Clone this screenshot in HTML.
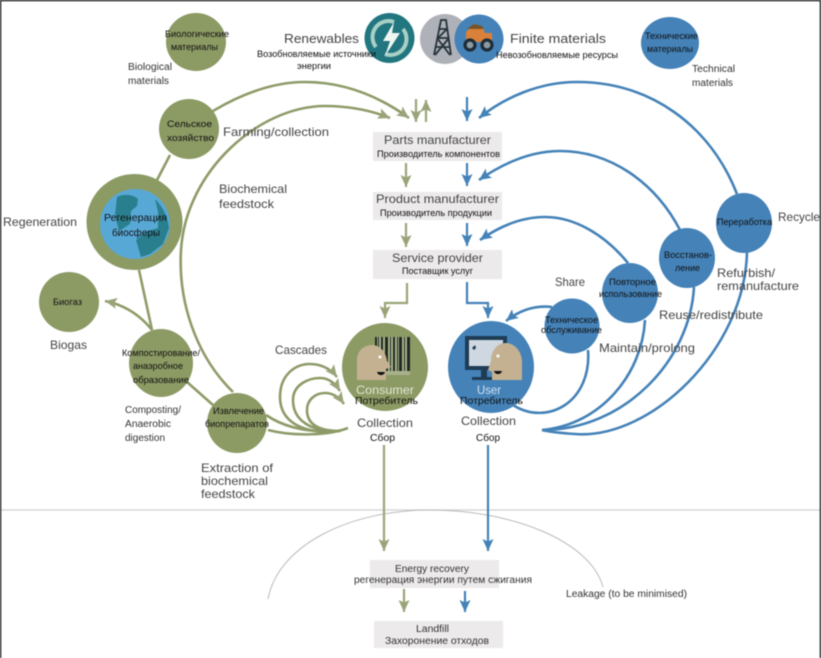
<!DOCTYPE html>
<html><head><meta charset="utf-8"><style>
html,body{margin:0;padding:0;background:#fff;width:821px;height:658px;overflow:hidden}
svg{display:block;filter:blur(.4px)}
text{font-family:"Liberation Sans",sans-serif;fill:#333;text-anchor:start}
.r{font-size:9px;fill:#111}
.l{font-size:12px;fill:#444}
.s{font-size:10px;fill:#333}
.g{fill:none;stroke:#8e9b68;stroke-width:2.6}
.b{fill:none;stroke:#4482b8;stroke-width:2.6}
.ga{fill:none;stroke:#9aa479;stroke-width:2.2}
.ba{fill:none;stroke:#4482b8;stroke-width:2.2}
</style></head><body>
<svg width="821" height="658" viewBox="0 0 821 658" xmlns="http://www.w3.org/2000/svg">
<defs>
<marker id="mg" markerUnits="userSpaceOnUse" markerWidth="14" markerHeight="13" refX="12" refY="6" orient="auto"><path d="M0 0.500L12 6L0 11.500L2.500 6Z" fill="#9aa479"/></marker>
<marker id="mb" markerUnits="userSpaceOnUse" markerWidth="14" markerHeight="13" refX="12" refY="6" orient="auto"><path d="M0 0.500L12 6L0 11.500L2.500 6Z" fill="#4482b8"/></marker>
</defs>
<rect width="821" height="658" fill="#fff"/>
<!-- divider & leakage arc -->
<line x1="0" y1="510" x2="820" y2="510" stroke="#d2d2cd" stroke-width="1.200"/>
<path d="M268 599C278 545 350 510 430 510C510 510 590 540 603 587" fill="none" stroke="#bbb" stroke-width="1"/>
<!-- boxes -->
<g fill="#eceaea">
<rect x="373" y="132" width="129" height="29"/>
<rect x="373" y="192" width="129" height="28"/>
<rect x="373" y="250" width="129" height="29"/>
<rect x="370" y="560" width="129" height="28"/>
<rect x="374" y="621" width="129" height="27"/>
</g>
<!-- green connectors -->
<path class="g" d="M213 111C245 92 275 82 305 82C345 82 380 97 409 118" marker-end="url(#mg)"/>
<path class="g" d="M233 392C195 355 178 300 181 250C186 170 260 106 325 106C350 106 370 110 390 118" marker-end="url(#mg)"/>
<path class="g" d="M170 155L157 180"/>
<path class="g" d="M139 270L152 330"/>
<path class="g" d="M152 330C140 315 125 305 105 301" marker-end="url(#mg)"/>
<path class="g" d="M187 382L213 405"/>
<path class="g" d="M268 430C295 437 330 435 348 428"/>
<path class="g" d="M266 415C285 428 310 433 340 431"/>
<path class="g" d="M340 431C300 435 280 420 280 397C280 375 295 364 310 364C320 364 330 368 337 377" marker-end="url(#mg)"/>
<path class="g" d="M340 431C310 432 293 420 293 400C293 385 308 378 320 378C328 378 335 383 340 391" marker-end="url(#mg)"/>
<path class="g" d="M340 431C320 431 307 425 307 410C307 400 315 393 325 393C333 393 339 397 344 404" marker-end="url(#mg)"/>
<path class="ga" d="M416 99V122" marker-end="url(#mg)"/>
<path class="ga" d="M426 122V100" marker-end="url(#mg)"/>
<path class="ga" d="M406 163V187" marker-end="url(#mg)"/>
<path class="ga" d="M406 223V247" marker-end="url(#mg)"/>
<path class="ga" d="M407 283V303H385V318" marker-end="url(#mg)"/>
<path class="ga" d="M384 445V551" marker-end="url(#mg)"/>
<path class="ga" d="M404 589V612" marker-end="url(#mg)"/>
<!-- blue connectors -->
<path class="b" d="M737 194C710 125 650 82 577 82C540 82 505 97 479 118" marker-end="url(#mb)"/>
<path class="b" d="M680 230C655 182 610 151 560 151C532 151 505 162 479 180" marker-end="url(#mb)"/>
<path class="b" d="M628 263C605 235 575 217 545 217C522 217 500 226 480 240" marker-end="url(#mb)"/>
<path class="b" d="M552 307C535 305 520 310 506 321" marker-end="url(#mb)"/>
<path class="b" d="M513 405C530 416 550 415 565 405C580 395 590 375 588 350"/>
<path class="b" d="M645 320C642 375 600 425 542 430"/>
<path class="b" d="M694 287C690 360 625 430 542 430"/>
<path class="b" d="M747 252C745 350 650 440 575 434C560 433 550 432 542 430"/>
<path class="ba" d="M467 97V121" marker-end="url(#mb)"/>
<path class="ba" d="M467 163V186" marker-end="url(#mb)"/>
<path class="ba" d="M467 223V246" marker-end="url(#mb)"/>
<path class="ba" d="M467 282V303H488V318" marker-end="url(#mb)"/>
<path class="ba" d="M488 445V551" marker-end="url(#mb)"/>
<path class="ba" d="M465 591V612" marker-end="url(#mb)"/>
<!-- green circles -->
<g fill="#8c9a64">
<ellipse cx="196" cy="42" rx="30" ry="29"/>
<circle cx="189" cy="129" r="30"/>
<circle cx="134.500" cy="222" r="48"/>
<circle cx="69" cy="302" r="30"/>
<ellipse cx="161" cy="363" rx="32" ry="34"/>
<circle cx="237" cy="423" r="30"/>
<ellipse cx="385" cy="367" rx="43" ry="44"/>
</g>
<!-- earth -->
<circle cx="135" cy="224" r="35" fill="#58a8d6"/>
<path d="M117 197C124 193 134 195 138 199L137 206L131 211L130 224L119 231L115 215Z" fill="#2a7f8f"/>
<path d="M155 199C163 207 168 217 169 228L163 244L150 254L141 257L136 240L146 232L158 228L158 212Z" fill="#2a7f8f"/>
<!-- blue circles -->
<g fill="#4482b8">
<ellipse cx="670" cy="43" rx="29" ry="26"/>
<ellipse cx="491" cy="367" rx="43" ry="46"/>
<circle cx="572" cy="326" r="27.500"/>
<ellipse cx="630" cy="293" rx="28" ry="30"/>
<ellipse cx="687" cy="258" rx="28" ry="30"/>
<ellipse cx="744" cy="223" rx="28" ry="30"/>
</g>
<!-- top icons -->
<circle cx="389.500" cy="38" r="25" fill="#227680"/>
<path d="M376 47A16 16 0 0 1 394 22" fill="none" stroke="#a8d0c6" stroke-width="4"/>
<path d="M403 29A16 16 0 0 1 385 54" fill="none" stroke="#a8d0c6" stroke-width="4"/>
<path d="M394 22L383 41H390L385 56L400 33H392Z" fill="#f0f6f2"/>
<circle cx="445" cy="39" r="25" fill="#aeb1b8"/>
<path d="M434 55L441 20H446L451 55M437 38H449M436 47H450M439 29H447M435 55L449 38M450 55L437 38M438 38L447 29" fill="none" stroke="#26323a" stroke-width="1.800"/>
<circle cx="479" cy="39" r="24.500" fill="#4482b8"/>
<path d="M466 32L470 28H483L485 33H492V42H466Z" fill="#d9813a"/>
<path d="M468 28L474 24L482 26L484 29H468Z" fill="#7a5428"/>
<circle cx="470" cy="45" r="5" fill="#8a9aa5" stroke="#1f2c36" stroke-width="3.200"/>
<circle cx="487" cy="45" r="5" fill="#8a9aa5" stroke="#1f2c36" stroke-width="3.200"/>
<!-- consumer icon -->
<rect x="375" y="337" width="35" height="38" fill="#a9b18c"/>
<g fill="#1f2a20">
<rect x="375" y="337" width="2" height="34"/><rect x="378" y="337" width="1" height="34"/><rect x="381" y="337" width="2" height="34"/><rect x="385" y="337" width="3" height="34"/><rect x="390" y="337" width="1" height="34"/><rect x="393" y="337" width="2" height="34"/><rect x="397" y="337" width="1" height="34"/><rect x="399" y="337" width="3" height="34"/><rect x="404" y="337" width="1" height="34"/><rect x="407" y="337" width="3" height="34"/>
</g>
<path d="M357 380V360C357 350 365 345 372 345C380 345 386 352 387 361L391 367L386 369V380Z" fill="#c4b192"/>
<circle cx="380" cy="357" r="1.500" fill="#fff"/>
<path d="M377 372H385C384 376 378 376 377 372Z" fill="#111"/>
<!-- user icon -->
<rect x="467" y="338" width="38" height="30" fill="#cfd8e0" stroke="#1f3c55" stroke-width="4"/>
<path d="M481 370H487V377H495V380H472V377H481Z" fill="#1f3c55"/>
<path d="M472 348L475 345L476 348L474 350Z" fill="#1f3c55"/>
<path d="M522 380V362C522 351 514 343 506 343C497 343 491 351 491 361L488 370L492 372V380Z" fill="#c4b192"/>
<circle cx="498" cy="356" r="1.500" fill="#fff"/>
<path d="M494 371H502C501 375 495 375 494 371Z" fill="#111"/>
<!-- texts -->
<text class="r" x="165" y="37" textLength="64" lengthAdjust="spacingAndGlyphs">Биологические</text>
<text class="r" x="171" y="50" textLength="47" lengthAdjust="spacingAndGlyphs">материалы</text>
<text class="s" x="128" y="70" textLength="44" lengthAdjust="spacingAndGlyphs">Biological</text>
<text class="s" x="128" y="84" textLength="41" lengthAdjust="spacingAndGlyphs">materials</text>
<text class="l" style="font-size:13px" x="284" y="43" textLength="75" lengthAdjust="spacingAndGlyphs">Renewables</text>
<text class="r" x="257" y="57" textLength="119" lengthAdjust="spacingAndGlyphs">Возобновляемые источники</text>
<text class="r" x="297" y="69" textLength="34" lengthAdjust="spacingAndGlyphs">энергии</text>
<text class="l" style="font-size:13px" x="510" y="43" textLength="96" lengthAdjust="spacingAndGlyphs">Finite materials</text>
<text class="r" x="496" y="58" textLength="122" lengthAdjust="spacingAndGlyphs">Невозобновляемые ресурсы</text>
<text class="r" x="645" y="39" textLength="53" lengthAdjust="spacingAndGlyphs">Технические</text>
<text class="r" x="647" y="52" textLength="46" lengthAdjust="spacingAndGlyphs">материалы</text>
<text class="s" x="692" y="72" textLength="43" lengthAdjust="spacingAndGlyphs">Technical</text>
<text class="s" x="692" y="86" textLength="41" lengthAdjust="spacingAndGlyphs">materials</text>
<text class="r" x="167" y="127" textLength="45" lengthAdjust="spacingAndGlyphs">Сельское</text>
<text class="r" x="167" y="141" textLength="47" lengthAdjust="spacingAndGlyphs">хозяйство</text>
<text class="l" x="223" y="136" textLength="106" lengthAdjust="spacingAndGlyphs">Farming/collection</text>
<text class="l" x="219" y="193" textLength="68" lengthAdjust="spacingAndGlyphs">Biochemical</text>
<text class="l" x="219" y="208" textLength="55" lengthAdjust="spacingAndGlyphs">feedstock</text>
<text class="l" x="3" y="226" textLength="74" lengthAdjust="spacingAndGlyphs">Regeneration</text>
<text class="r" style="font-size:10px" x="104" y="221" textLength="63" lengthAdjust="spacingAndGlyphs">Регенерация</text>
<text class="r" style="font-size:10px" x="112" y="236" textLength="48" lengthAdjust="spacingAndGlyphs">биосферы</text>
<text class="l" x="384" y="144" textLength="107" lengthAdjust="spacingAndGlyphs">Parts manufacturer</text>
<text class="r" x="377" y="157" textLength="123" lengthAdjust="spacingAndGlyphs">Производитель компонентов</text>
<text class="l" x="376" y="203" textLength="123" lengthAdjust="spacingAndGlyphs">Product manufacturer</text>
<text class="r" x="380" y="216" textLength="112" lengthAdjust="spacingAndGlyphs">Производитель продукции</text>
<text class="l" x="392" y="262" textLength="91" lengthAdjust="spacingAndGlyphs">Service provider</text>
<text class="r" x="402" y="274" textLength="71" lengthAdjust="spacingAndGlyphs">Поставщик услуг</text>
<text class="r" x="53" y="305" textLength="29" lengthAdjust="spacingAndGlyphs">Биогаз</text>
<text class="l" x="50" y="349" textLength="37" lengthAdjust="spacingAndGlyphs">Biogas</text>
<text class="r" x="122" y="356" textLength="78" lengthAdjust="spacingAndGlyphs">Компостирование/</text>
<text class="r" x="133" y="369" textLength="50" lengthAdjust="spacingAndGlyphs">анаэробное</text>
<text class="r" x="133" y="383" textLength="56" lengthAdjust="spacingAndGlyphs">образование</text>
<text class="s" x="125" y="413" textLength="56" lengthAdjust="spacingAndGlyphs">Composting/</text>
<text class="s" x="125" y="427" textLength="46" lengthAdjust="spacingAndGlyphs">Anaerobic</text>
<text class="s" x="125" y="441" textLength="40" lengthAdjust="spacingAndGlyphs">digestion</text>
<text class="r" x="213" y="414" textLength="51" lengthAdjust="spacingAndGlyphs">Извлечение</text>
<text class="r" x="205" y="427" textLength="64" lengthAdjust="spacingAndGlyphs">биопрепаратов</text>
<text class="l" x="201" y="472" textLength="72" lengthAdjust="spacingAndGlyphs">Extraction of</text>
<text class="l" x="201" y="485" textLength="67" lengthAdjust="spacingAndGlyphs">biochemical</text>
<text class="l" x="201" y="498" textLength="54" lengthAdjust="spacingAndGlyphs">feedstock</text>
<text class="l" x="275" y="354" textLength="52" lengthAdjust="spacingAndGlyphs">Cascades</text>
<text class="l" style="fill:#e3e6d6" x="356" y="394" textLength="58" lengthAdjust="spacingAndGlyphs">Consumer</text>
<text class="r" style="font-size:10px;fill:#111" x="355" y="404" textLength="63" lengthAdjust="spacingAndGlyphs">Потребитель</text>
<text class="l" x="357" y="427" textLength="56" lengthAdjust="spacingAndGlyphs">Collection</text>
<text class="r" style="font-size:10px" x="370" y="441" textLength="25" lengthAdjust="spacingAndGlyphs">Сбор</text>
<text class="l" style="fill:#d4e3ef" x="477" y="394" textLength="24" lengthAdjust="spacingAndGlyphs">User</text>
<text class="r" style="font-size:10px;fill:#111" x="460" y="404" textLength="63" lengthAdjust="spacingAndGlyphs">Потребитель</text>
<text class="l" x="461" y="425" textLength="55" lengthAdjust="spacingAndGlyphs">Collection</text>
<text class="r" style="font-size:10px" x="476" y="441" textLength="24" lengthAdjust="spacingAndGlyphs">Сбор</text>
<text class="l" x="555" y="286" textLength="30" lengthAdjust="spacingAndGlyphs">Share</text>
<text class="r" x="545" y="323" textLength="53" lengthAdjust="spacingAndGlyphs">Техническое</text>
<text class="r" x="541" y="333" textLength="61" lengthAdjust="spacingAndGlyphs">обслуживание</text>
<text class="r" x="609" y="285" textLength="47" lengthAdjust="spacingAndGlyphs">Повторное</text>
<text class="r" x="599" y="297" textLength="63" lengthAdjust="spacingAndGlyphs">использование</text>
<text class="r" x="664" y="258" textLength="48" lengthAdjust="spacingAndGlyphs">Восстанов-</text>
<text class="r" x="675" y="271" textLength="25" lengthAdjust="spacingAndGlyphs">ление</text>
<text class="r" x="717" y="225" textLength="55" lengthAdjust="spacingAndGlyphs">Переработка</text>
<text class="l" x="778" y="221" textLength="42" lengthAdjust="spacingAndGlyphs">Recycle</text>
<text class="l" x="717" y="277" textLength="58" lengthAdjust="spacingAndGlyphs">Refurbish/</text>
<text class="l" x="717" y="290" textLength="82" lengthAdjust="spacingAndGlyphs">remanufacture</text>
<text class="l" x="659" y="319" textLength="104" lengthAdjust="spacingAndGlyphs">Reuse/redistribute</text>
<text class="l" x="599" y="352" textLength="96" lengthAdjust="spacingAndGlyphs">Maintain/prolong</text>
<text class="s" x="395" y="572" textLength="74" lengthAdjust="spacingAndGlyphs">Energy recovery</text>
<text class="s" x="354" y="583" textLength="178" lengthAdjust="spacingAndGlyphs">регенерация энергии путем сжигания</text>
<text class="s" x="416" y="632" textLength="33" lengthAdjust="spacingAndGlyphs">Landfill</text>
<text class="s" x="385" y="644" textLength="104" lengthAdjust="spacingAndGlyphs">Захоронение отходов</text>
<text class="s" x="566" y="597" textLength="121" lengthAdjust="spacingAndGlyphs">Leakage (to be minimised)</text>
<!-- frame -->
<path d="M.5 658V.5H820.500V658" fill="none" stroke="#111" stroke-width="1.500"/>
</svg>
</body></html>
